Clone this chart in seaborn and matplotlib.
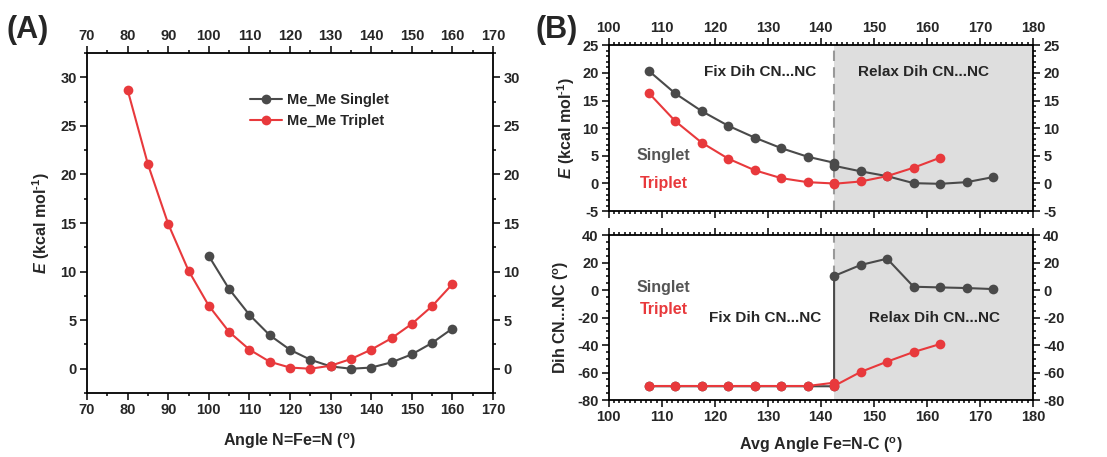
import numpy as np
import pandas as pd
import matplotlib
matplotlib.use("Agg")
import matplotlib.pyplot as plt
import seaborn as sns
from matplotlib.ticker import MultipleLocator

# ---------------- data ----------------
# Panel A
angle_triplet_A = [80, 85, 90, 95, 100, 105, 110, 115, 120, 125, 130, 135, 140, 145, 150, 155, 160]
E_triplet_A = [28.7, 21.05, 14.9, 10.1, 6.48, 3.79, 1.97, 0.72, 0.12, 0.0, 0.31, 1.0, 1.97, 3.14, 4.62, 6.45, 8.72]
angle_singlet_A = [100, 105, 110, 115, 120, 125, 130, 135, 140, 145, 150, 155, 160]
E_singlet_A = [11.6, 8.2, 5.55, 3.45, 1.95, 0.93, 0.24, 0.0, 0.12, 0.66, 1.48, 2.66, 4.14]

# Panel B (duplicate x at the boundary: fixed and relaxed geometries)
angle_singlet_B = [107.5, 112.5, 117.5, 122.5, 127.5, 132.5, 137.5, 142.5, 142.5,
                   147.5, 152.5, 157.5, 162.5, 167.5, 172.5]
E_singlet_B = [20.4, 16.3, 13.1, 10.45, 8.3, 6.4, 4.84, 3.75, 3.2,
               2.2, 1.33, 0.06, -0.06, 0.24, 1.15]
dih_singlet_B = [-70, -70, -70, -70, -70, -70, -70, -70, 10.2,
                 18.2, 22.8, 2.4, 1.9, 1.45, 0.7]

angle_triplet_B = [107.5, 112.5, 117.5, 122.5, 127.5, 132.5, 137.5, 142.5, 142.5,
                   147.5, 152.5, 157.5, 162.5]
E_triplet_B = [16.4, 11.3, 7.4, 4.5, 2.4, 0.97, 0.24, 0.0, -0.05,
               0.36, 1.33, 2.85, 4.66]
dih_triplet_B = [-69.8, -69.8, -69.8, -69.8, -69.8, -69.8, -69.8, -67.4, -69.8,
                 -59.6, -52.1, -45.1, -39.3]

boundary = 142.5
relax_dih_singlet_start = 10.2

# ---------------- style ----------------
sns.set_theme(style="ticks")
plt.rcParams["font.family"] = ["Liberation Sans", "DejaVu Sans"]
plt.rcParams["font.weight"] = "bold"
plt.rcParams["axes.labelweight"] = "bold"
plt.rcParams["axes.unicode_minus"] = False
plt.rcParams["mathtext.fontset"] = "custom"
plt.rcParams["mathtext.rm"] = "Liberation Sans:bold"
plt.rcParams["mathtext.bf"] = "Liberation Sans:bold"
plt.rcParams["mathtext.it"] = "Liberation Sans:italic:bold"

C_S = "#4a4a4a"
C_T = "#e8393c"
SHADE = "#dedede"
TICK_FS = 10.5
LABEL_FS = 11.5

fig = plt.figure(figsize=(11.07, 4.57), dpi=100)
axA = fig.add_axes([0.0786, 0.140, 0.3668, 0.744])
axB1 = fig.add_axes([0.550, 0.538, 0.383, 0.363])
axB2 = fig.add_axes([0.550, 0.1247, 0.383, 0.361])


def style_axes(ax, top_labels, bottom_labels):
    for s in ax.spines.values():
        s.set_linewidth(1.3)
        s.set_color("black")
        s.set_visible(True)
    ax.tick_params(which="both", direction="out", top=True, right=True, bottom=True, left=True,
                   labeltop=top_labels, labelbottom=bottom_labels, labelright=True, labelleft=True,
                   labelsize=TICK_FS, width=1.1, color="black", pad=2.5)
    ax.tick_params(which="major", length=5)
    ax.tick_params(which="minor", length=2.5)


def bold_ticks(ax):
    for axis in (ax.xaxis, ax.yaxis):
        for t in axis.get_major_ticks():
            t.label1.set_fontweight("bold")
            t.label2.set_fontweight("bold")


line_kw = dict(marker="o", markersize=7, linewidth=1.5, markeredgewidth=0,
               sort=False, estimator=None)

ylabel_E = r"$E$ (kcal mol$^{\text{-1}}$)"

# ---------------- Panel A ----------------
sns.lineplot(x=angle_singlet_A, y=E_singlet_A, ax=axA, color=C_S, label="Me_Me Singlet", **line_kw)
sns.lineplot(x=angle_triplet_A, y=E_triplet_A, ax=axA, color=C_T, label="Me_Me Triplet", **line_kw)
axA.set_xlim(70, 170)
axA.set_ylim(-2.5, 32.5)
axA.xaxis.set_major_locator(MultipleLocator(10))
axA.xaxis.set_minor_locator(MultipleLocator(5))
axA.yaxis.set_major_locator(MultipleLocator(5))
axA.yaxis.set_minor_locator(MultipleLocator(2.5))
axA.set_xlabel(r"Angle N=Fe=N ($^{\rm o}$)", fontsize=LABEL_FS, fontweight="bold", labelpad=10)
axA.set_ylabel(ylabel_E, fontsize=LABEL_FS, fontweight="bold", labelpad=6)
style_axes(axA, True, True)
leg = axA.legend(loc="upper left", bbox_to_anchor=(0.37, 0.92), frameon=False,
                 handlelength=2.2, handletextpad=0.3, labelspacing=0.45,
                 prop={"weight": "bold", "size": 10.5})

# ---------------- Panel B top ----------------
axB1.axvspan(boundary, 180, color=SHADE, zorder=0, lw=0)
axB1.axvline(boundary, color="#999999", ls=(0, (5, 3)), lw=1.5, zorder=1)
sns.lineplot(x=angle_singlet_B, y=E_singlet_B, ax=axB1, color=C_S, **line_kw)
sns.lineplot(x=angle_triplet_B, y=E_triplet_B, ax=axB1, color=C_T, **line_kw)
axB1.set_xlim(100, 180)
axB1.set_ylim(-5, 25)
axB1.xaxis.set_major_locator(MultipleLocator(10))
axB1.xaxis.set_minor_locator(MultipleLocator(1))
axB1.yaxis.set_major_locator(MultipleLocator(5))
axB1.yaxis.set_minor_locator(MultipleLocator(1))
axB1.set_xlabel("")
axB1.set_ylabel(ylabel_E, fontsize=LABEL_FS, fontweight="bold", labelpad=4)
style_axes(axB1, True, False)
axB1.text(128.5, 20.1, "Fix Dih CN...NC", ha="center", va="center", fontsize=11, fontweight="bold")
axB1.text(159.4, 20.1, "Relax Dih CN...NC", ha="center", va="center", fontsize=11, fontweight="bold")
axB1.text(110.3, 5.1, "Singlet", ha="center", va="center", fontsize=11.5, fontweight="bold", color="#555555")
axB1.text(110.3, 0.0, "Triplet", ha="center", va="center", fontsize=11.5, fontweight="bold", color=C_T)

# ---------------- Panel B bottom ----------------
axB2.axvspan(boundary, 180, color=SHADE, zorder=0, lw=0)
axB2.vlines(boundary, relax_dih_singlet_start, 40, color="#999999", ls=(0, (5, 3)), lw=1.5, zorder=1)
sns.lineplot(x=angle_singlet_B, y=dih_singlet_B, ax=axB2, color=C_S, **line_kw)
sns.lineplot(x=angle_triplet_B, y=dih_triplet_B, ax=axB2, color=C_T, **line_kw)
axB2.set_xlim(100, 180)
axB2.set_ylim(-80, 40)
axB2.xaxis.set_major_locator(MultipleLocator(10))
axB2.xaxis.set_minor_locator(MultipleLocator(1))
axB2.yaxis.set_major_locator(MultipleLocator(20))
axB2.yaxis.set_minor_locator(MultipleLocator(5))
axB2.set_xlabel(r"Avg Angle Fe=N-C ($^{\rm o}$)", fontsize=LABEL_FS, fontweight="bold", labelpad=8)
axB2.set_ylabel(r"Dih CN...NC ($^{\rm o}$)", fontsize=LABEL_FS, fontweight="bold", labelpad=4)
style_axes(axB2, False, True)
axB2.text(129.4, -20, "Fix Dih CN...NC", ha="center", va="center", fontsize=11, fontweight="bold")
axB2.text(161.5, -20, "Relax Dih CN...NC", ha="center", va="center", fontsize=11, fontweight="bold")
axB2.text(110.3, 2.2, "Singlet", ha="center", va="center", fontsize=11.5, fontweight="bold", color="#555555")
axB2.text(110.3, -14.5, "Triplet", ha="center", va="center", fontsize=11.5, fontweight="bold", color=C_T)

# panel labels
fig.text(0.025, 0.935, "(A)", fontsize=22, fontweight="bold", ha="center", va="center")
fig.text(0.503, 0.935, "(B)", fontsize=22, fontweight="bold", ha="center", va="center")

fig.canvas.draw()
for ax in (axA, axB1, axB2):
    bold_ticks(ax)

fig.savefig("out.png", dpi=100)
